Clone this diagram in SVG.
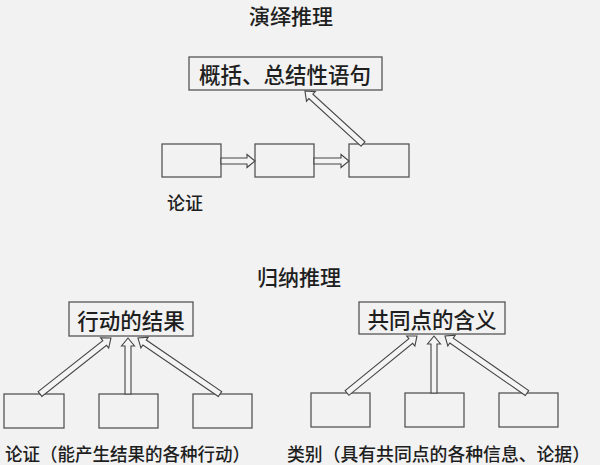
<svg xmlns="http://www.w3.org/2000/svg" width="600" height="465" viewBox="0 0 600 465">
<style>
text{font-family:"Noto Sans CJK SC","Noto Sans",sans-serif;fill:#1e1e1e;dominant-baseline:central;font-weight:500}
.t{font-size:21px;text-anchor:middle}
.b{font-size:21.5px;text-anchor:middle}
.l{font-size:18px}
rect.n{fill:#f2f2f2;stroke:#555;stroke-width:1.3}
.a{fill:#f4f4f4;stroke:#444;stroke-width:1.1;stroke-linejoin:miter}
</style>
<rect width="600" height="465" fill="#f2f2f2"/>
<text class="t" x="291" y="15">演绎推理</text>
<text class="t" x="299" y="276">归纳推理</text>
<g id="d-top"><rect class="n" x="189" y="57" width="193" height="33"/><text class="b" x="285" y="73.5">概括、总结性语句</text></g>
<g id="d1"><rect class="n" x="162" y="144" width="59" height="33"/></g>
<g id="d2"><rect class="n" x="255" y="144" width="59" height="33"/></g>
<g id="d3"><rect class="n" x="349" y="144" width="60" height="33"/></g>
<text class="l" x="167" y="202">论证</text>
<g id="i-left"><rect class="n" x="69" y="302" width="124" height="34"/><text class="b" x="131" y="319">行动的结果</text></g>
<g id="l1"><rect class="n" x="4" y="394" width="60" height="34"/></g>
<g id="l2"><rect class="n" x="99" y="394" width="59" height="34"/></g>
<g id="l3"><rect class="n" x="193" y="394" width="59" height="34"/></g>
<g id="i-right"><rect class="n" x="359" y="302" width="146" height="32"/><text class="b" x="432" y="318">共同点的含义</text></g>
<g id="r1"><rect class="n" x="311" y="393" width="59" height="34"/></g>
<g id="r2"><rect class="n" x="405" y="393" width="59" height="34"/></g>
<g id="r3"><rect class="n" x="499" y="393" width="59" height="34"/></g>
<text class="l" x="5" y="453" textLength="245" lengthAdjust="spacingAndGlyphs">论证（能产生结果的各种行动）</text>
<text class="l" x="287" y="453" textLength="303" lengthAdjust="spacingAndGlyphs">类别（具有共同点的各种信息、论据）</text>
<g id="connectors">
<path class="a" transform="translate(221,161)" d="M0,-3 L26,-3 L26,-6.5 L34,0 L26,6.5 L26,3 L0,3 Z"/>
<path class="a" transform="translate(314,161)" d="M0,-3 L27,-3 L27,-6.5 L35,0 L27,6.5 L27,3 L0,3 Z"/>
<path class="a" transform="translate(363,144) rotate(-137.6)" d="M0,-3 L70.6,-3 L70.6,-6.5 L78.6,0 L70.6,6.5 L70.6,3 L0,3 Z"/>
<path class="a" transform="translate(40,394) rotate(-38.3)" d="M0,-3 L82.4,-3 L82.4,-6.5 L90.4,0 L82.4,6.5 L82.4,3 L0,3 Z"/>
<path class="a" transform="translate(128,394) rotate(-90)" d="M0,-3 L48,-3 L48,-6.5 L56,0 L48,6.5 L48,3 L0,3 Z"/>
<path class="a" transform="translate(220,394) rotate(-145.7)" d="M0,-3 L91.3,-3 L91.3,-6.5 L99.3,0 L91.3,6.5 L91.3,3 L0,3 Z"/>
<path class="a" transform="translate(347,393) rotate(-39.2)" d="M0,-3 L82.3,-3 L82.3,-6.5 L90.3,0 L82.3,6.5 L82.3,3 L0,3 Z"/>
<path class="a" transform="translate(434,393) rotate(-90)" d="M0,-3 L49,-3 L49,-6.5 L57,0 L49,6.5 L49,3 L0,3 Z"/>
<path class="a" transform="translate(527,393) rotate(-145.2)" d="M0,-3 L91.9,-3 L91.9,-6.5 L99.9,0 L91.9,6.5 L91.9,3 L0,3 Z"/>
</g>
</svg>
